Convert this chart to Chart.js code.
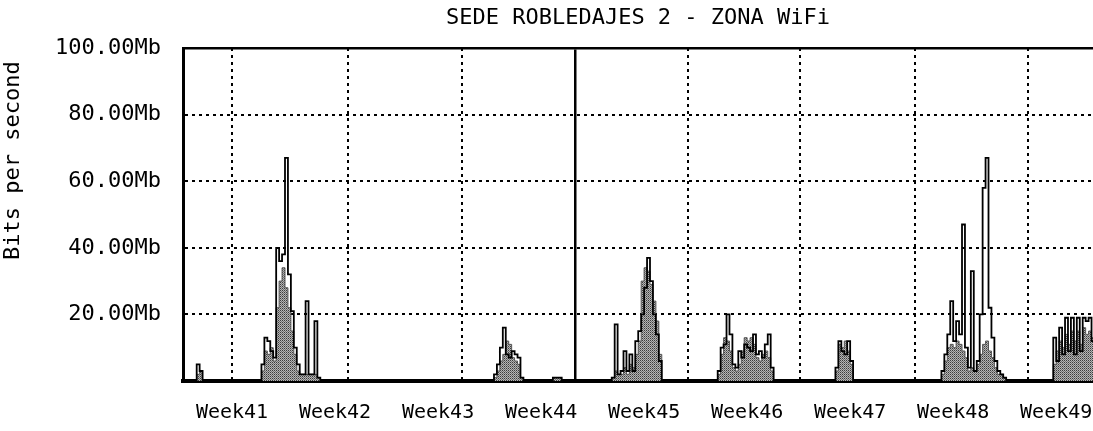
<!DOCTYPE html>
<html>
<head>
<meta charset="utf-8">
<script src="https://cdn.jsdelivr.net/npm/chart.js@4.4.1/dist/chart.umd.min.js"></script>
<style>
  html, body { margin: 0; padding: 0; background: #fff; }
  #wrap { width: 1093px; height: 431px; }
</style>
</head>
<body>
<div id="wrap"><canvas id="traffic" width="1093" height="431"></canvas></div>
<script>
// Weekly WiFi traffic graph (weeks 41-49), values in Mb per second.
const chartTitle = 'SEDE ROBLEDAJES 2 - ZONA WiFi';
const yAxisTitle = 'Bits per second ';

const weekLabels = ['Week41', 'Week42', 'Week43', 'Week44', 'Week45', 'Week46', 'Week47', 'Week48', 'Week49'];
const weekLabelDays = [0, 7, 14, 21, 28, 35, 42, 49, 56];

// vertical grid: dotted lines and the single solid one
const gridDays = [0, 7.9, 15.6, 31.0, 38.6, 46.4, 54.1];
const majorGridDays = [23.3];

const yTickValues = [0, 20, 40, 60, 80, 100];
const yTickLabels = ['', '20.00Mb', '40.00Mb', '60.00Mb', '80.00Mb', '100.00Mb'];

const dayMin = -3.33;
const dayMax = 58.5;

// samples: day offset, inbound and outbound rate (Mb/s)
const sampleDay = [
  -3.4, -2.4, -2.2, -2.0,
  2.0, 2.2, 2.4, 2.6, 2.8, 3.0, 3.2, 3.4, 3.6, 3.8, 4.0, 4.2, 4.4, 4.6, 4.8, 5.0, 5.2, 5.4, 5.6, 5.8, 6.0,
  17.8, 18.0, 18.2, 18.4, 18.6, 18.8, 19.0, 19.2, 19.4, 19.6, 19.8,
  21.8, 22.4,
  25.8, 26.0, 26.2, 26.4, 26.6, 26.8, 27.0, 27.2, 27.4, 27.6, 27.8, 28.0, 28.2, 28.4, 28.6, 28.8, 29.0, 29.2,
  33.0, 33.2, 33.4, 33.6, 33.8, 34.0, 34.2, 34.4, 34.6, 34.8, 35.0, 35.2, 35.4, 35.6, 35.8, 36.0, 36.2, 36.4, 36.6, 36.8,
  41.0, 41.2, 41.4, 41.6, 41.8, 42.0, 42.2,
  48.2, 48.4, 48.6, 48.8, 49.0, 49.2, 49.4, 49.6, 49.8, 50.0, 50.2, 50.4, 50.6, 50.8, 51.0, 51.2, 51.4, 51.6, 51.8, 52.0, 52.2, 52.4, 52.6,
  55.8, 56.0, 56.2, 56.4, 56.6, 56.8, 57.0, 57.2, 57.4, 57.6, 57.8, 58.0, 58.2, 58.4, 58.6
];
const trafficIn = [
  0, 2, 3, 0,
  3, 9, 8, 10, 6, 22, 30, 34, 28, 22, 15, 8, 3, 2, 2, 2, 2, 2, 2, 1, 0,
  1, 3, 6, 8, 12, 11, 7, 6, 5, 1, 0,
  1, 0,
  1, 3, 2, 2, 4, 2, 5, 4, 8, 12, 30, 34, 33, 29, 24, 18, 8, 0,
  2, 8, 13, 12, 9, 4, 3, 5, 9, 13, 12, 13, 11, 7, 6, 8, 9, 7, 3, 0,
  3, 11, 10, 12, 9, 5, 0,
  2, 6, 10, 11, 10, 12, 11, 9, 7, 3, 4, 3, 5, 8, 11, 12, 9, 7, 4, 2, 2, 1, 0,
  5, 9, 12, 10, 14, 11, 15, 12, 15, 11, 16, 14, 15, 13, 13
];
const trafficOut = [
  0, 5, 3, 0,
  5, 13, 12, 9, 7, 40, 36, 38, 67, 32, 21, 10, 5, 2, 2, 24, 2, 2, 18, 1, 0,
  2, 5, 10, 16, 8, 7, 9, 8, 7, 1, 0,
  1, 0,
  1, 17, 2, 3, 9, 3, 8, 3, 12, 15, 20, 28, 37, 30, 20, 14, 6, 0,
  3, 10, 11, 20, 14, 5, 4, 9, 7, 11, 10, 9, 14, 8, 9, 7, 11, 14, 4, 0,
  4, 12, 9, 8, 12, 6, 0,
  3, 8, 14, 24, 12, 18, 14, 47, 10, 4, 33, 3, 6, 20, 58, 67, 22, 13, 6, 3, 2, 1, 0,
  13, 6, 16, 8, 19, 9, 19, 8, 19, 9, 19, 18, 19, 12, 15
];

const monoFont = "'DejaVu Sans Mono', 'Liberation Mono', monospace";

// grainy grey fill for the inbound area
function halftoneFill() {
  const tile = document.createElement('canvas');
  tile.width = 2; tile.height = 2;
  const g = tile.getContext('2d');
  g.fillStyle = '#b5b5b5'; g.fillRect(0, 0, 2, 2);
  g.fillStyle = '#3c3c3c'; g.fillRect(0, 0, 1, 1);
  g.fillStyle = '#727272'; g.fillRect(1, 1, 1, 1);
  return g.createPattern(tile, 'repeat');
}

const ctx = document.getElementById('traffic').getContext('2d');

new Chart(ctx, {
  type: 'line',
  data: {
    datasets: [
      {
        label: 'Out',
        data: sampleDay.map((d, i) => ({ x: d, y: trafficOut[i] })),
        borderColor: '#000',
        borderWidth: 1.8,
        stepped: true,
        fill: false,
        pointRadius: 0,
        order: 0
      },
      {
        label: 'In',
        data: sampleDay.map((d, i) => ({ x: d, y: trafficIn[i] })),
        borderColor: '#555',
        borderWidth: 1,
        backgroundColor: halftoneFill(),
        stepped: true,
        fill: 'origin',
        pointRadius: 0,
        order: 1
      }
    ]
  },
  options: {
    responsive: false,
    devicePixelRatio: 1,
    animation: false,
    events: [],
    layout: { padding: { left: 0, right: 0, top: 0, bottom: 0 } },
    plugins: {
      legend: { display: false },
      tooltip: { enabled: false },
      title: {
        display: true,
        text: chartTitle,
        fullSize: false,
        align: 'center',
        color: '#000',
        font: { family: monoFont, size: 22, weight: 'normal', lineHeight: 1.2 },
        padding: { top: 5, bottom: 16.6 }
      }
    },
    scales: {
      x: {
        type: 'linear',
        position: 'bottom',
        weight: 0,
        min: dayMin,
        max: dayMax,
        afterBuildTicks: axis => { axis.ticks = gridDays.map(v => ({ value: v })); },
        ticks: { display: false },
        grid: { color: '#000', lineWidth: 2, drawTicks: false },
        border: { display: true, color: '#000', width: 4, dash: [3, 4] }
      },
      xWeeks: {
        type: 'linear',
        position: 'bottom',
        weight: 1,
        min: dayMin,
        max: dayMax,
        afterBuildTicks: axis => { axis.ticks = weekLabelDays.map(v => ({ value: v })); },
        afterFit: axis => { axis.height = 50; },
        ticks: {
          autoSkip: false,
          maxRotation: 0,
          padding: 0,
          color: '#000',
          font: { family: monoFont, size: 20, lineHeight: 1.2 },
          callback: (v, i) => weekLabels[i]
        },
        grid: { display: false, drawTicks: true, tickLength: 20 },
        border: { display: false }
      },
      xTop: {
        type: 'linear',
        position: 'top',
        min: dayMin,
        max: dayMax,
        afterBuildTicks: axis => { axis.ticks = majorGridDays.map(v => ({ value: v })); },
        ticks: { display: false },
        grid: { color: '#000', lineWidth: 2.5, drawTicks: false },
        border: { display: true, color: '#000', width: 2.5 }
      },
      y: {
        type: 'linear',
        position: 'left',
        min: 0,
        max: 100,
        afterBuildTicks: axis => { axis.ticks = yTickValues.map(v => ({ value: v })); },
        afterFit: axis => { axis.width = 183; },
        ticks: {
          padding: 22,
          crossAlign: 'near',
          color: '#000',
          font: { family: monoFont, size: 22, lineHeight: 1.2 },
          callback: (v, i) => yTickLabels[i]
        },
        grid: {
          drawTicks: false,
          lineWidth: 2,
          color: c => (c.tick && (c.tick.value === 0 || c.tick.value === 100)) ? 'rgba(0,0,0,0)' : '#000'
        },
        border: { display: true, color: '#000', width: 3, dash: [3, 4] },
        title: {
          display: true,
          text: yAxisTitle,
          align: 'end',
          color: '#000',
          font: { family: monoFont, size: 22, lineHeight: 1.2 },
          padding: { top: 0, bottom: 0 }
        }
      }
    }
  }
});
</script>
</body>
</html>
